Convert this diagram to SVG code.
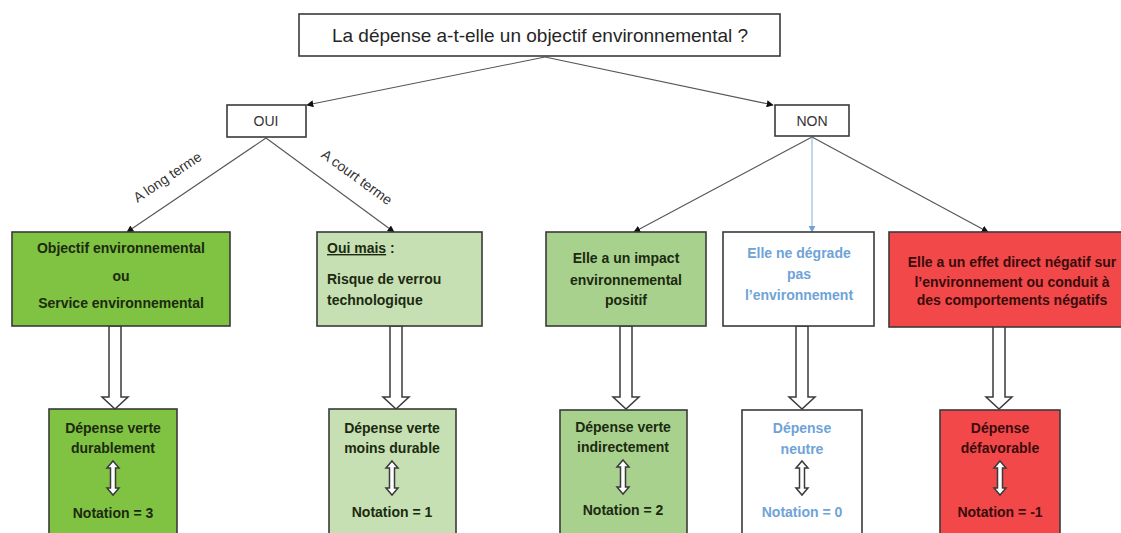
<svg xmlns="http://www.w3.org/2000/svg" width="1121" height="533" viewBox="0 0 1121 533">
<style>
.box{stroke:#3a3a3a;stroke-width:1.6}
.t{font-family:"Liberation Sans",Arial,sans-serif}
.b{font-family:"Liberation Sans",Arial,sans-serif;font-weight:bold;font-size:14px;text-anchor:middle}
.st{text-anchor:start}
.dk{fill:#1c2a10}
.rd{fill:#3a0c0c}
.bl{fill:#6fa3d8}
.con{stroke:#555;stroke-width:1.1;fill:none}
.hol{fill:#fff;stroke:#3a3a3a;stroke-width:1.5}
.lbl{font-family:"Liberation Sans",Arial,sans-serif;font-size:14px;fill:#333;text-anchor:middle}
</style>
<defs>
<marker id="ah" viewBox="0 0 10 10" refX="9" refY="5" markerWidth="7" markerHeight="7" orient="auto" markerUnits="userSpaceOnUse"><path d="M0,0L10,5L0,10z" fill="#111"/></marker>
<marker id="ahb" viewBox="0 0 10 10" refX="9" refY="5" markerWidth="7" markerHeight="7" orient="auto" markerUnits="userSpaceOnUse"><path d="M0,0L10,5L0,10z" fill="#6fa3d8"/></marker>
<path id="dbl" d="M0,-17 L6,-10 L2.5,-10 L2.5,10 L6,10 L0,17 L-6,10 L-2.5,10 L-2.5,-10 L-6,-10 Z"/>
<path id="big" d="M-6,0 L6,0 L6,71 L13,71 L0,83 L-13,71 L-6,71 Z"/>
</defs>
<rect width="1121" height="533" fill="#fff"/>

<g id="connectors">
<line class="con" x1="545" y1="57" x2="307" y2="105" marker-end="url(#ah)"/>
<line class="con" x1="545" y1="57" x2="773" y2="105" marker-end="url(#ah)"/>
<line class="con" x1="266" y1="138" x2="127" y2="232" marker-end="url(#ah)"/>
<line class="con" x1="266" y1="138" x2="394" y2="232" marker-end="url(#ah)"/>
<line class="con" x1="812" y1="137" x2="634" y2="232" marker-end="url(#ah)"/>
<line x1="812" y1="137" x2="812" y2="232" stroke="#8fb4dc" stroke-width="1.1" marker-end="url(#ahb)"/>
<line class="con" x1="812" y1="137" x2="988" y2="232" marker-end="url(#ah)"/>
<text class="lbl" transform="translate(170,181) rotate(-34)">A long terme</text>
<text class="lbl" transform="translate(354,181) rotate(36)">A court terme</text>
<use href="#big" class="hol" x="115" y="326"/>
<use href="#big" class="hol" x="396" y="326"/>
<use href="#big" class="hol" x="626" y="326"/>
<use href="#big" class="hol" x="802" y="326"/>
<use href="#big" class="hol" x="999" y="326"/>
</g>

<g id="n-question">
<rect class="box" x="299" y="14" width="481" height="42" fill="#fff"/>
<text class="t" x="540" y="42" font-size="19" fill="#262626" text-anchor="middle">La dépense a-t-elle un objectif environnemental ?</text>
</g>
<g id="n-oui">
<rect class="box" x="227" y="105" width="79" height="32" fill="#fff"/>
<text class="t" x="266" y="126" font-size="14" fill="#333" text-anchor="middle">OUI</text>
</g>
<g id="n-non">
<rect class="box" x="775" y="105" width="74" height="31" fill="#fff"/>
<text class="t" x="812" y="126" font-size="14" fill="#333" text-anchor="middle">NON</text>
</g>

<g id="n-objectif">
<rect class="box" x="12" y="232" width="218" height="94" fill="#80c241"/>
<text class="b dk" x="121" y="253">Objectif environnemental</text>
<text class="b dk" x="121" y="281">ou</text>
<text class="b dk" x="121" y="308">Service environnemental</text>
</g>
<g id="n-ouimais">
<rect class="box" x="317" y="232" width="165" height="94" fill="#c6e0b4"/>
<text class="b dk st" x="327" y="253"><tspan text-decoration="underline">Oui mais</tspan> :</text>
<text class="b dk st" x="327" y="284">Risque de verrou</text>
<text class="b dk st" x="327" y="305">technologique</text>
</g>
<g id="n-impact">
<rect class="box" x="546" y="232" width="160" height="94" fill="#a9d18e"/>
<text class="b dk" x="626" y="263">Elle a un impact</text>
<text class="b dk" x="626" y="285">environnemental</text>
<text class="b dk" x="626" y="305">positif</text>
</g>
<g id="n-degrade">
<rect class="box" x="723" y="232" width="151" height="94" fill="#fff"/>
<text class="b bl" x="799" y="258">Elle ne dégrade</text>
<text class="b bl" x="799" y="279">pas</text>
<text class="b bl" x="799" y="300">l’environnement</text>
</g>
<g id="n-negatif">
<rect class="box" x="889" y="232" width="250" height="95" fill="#f2484a"/>
<text class="b rd" x="1012" y="267">Elle a un effet direct négatif sur</text>
<text class="b rd" x="1012" y="287">l’environnement ou conduit à</text>
<text class="b rd" x="1012" y="305">des comportements négatifs</text>
</g>

<g id="n-durable">
<rect class="box" x="49" y="409" width="128" height="140" fill="#80c241"/>
<text class="b dk" x="113" y="433">Dépense verte</text>
<text class="b dk" x="113" y="453">durablement</text>
<use href="#dbl" class="hol" x="113" y="478"/>
<text class="b dk" x="113" y="518">Notation = 3</text>
</g>
<g id="n-moinsdurable">
<rect class="box" x="329" y="409" width="127" height="140" fill="#c6e0b4"/>
<text class="b dk" x="392" y="433">Dépense verte</text>
<text class="b dk" x="392" y="453">moins durable</text>
<use href="#dbl" class="hol" x="392" y="478"/>
<text class="b dk" x="392" y="517">Notation = 1</text>
</g>
<g id="n-indirect">
<rect class="box" x="560" y="410" width="127" height="140" fill="#a9d18e"/>
<text class="b dk" x="623" y="432">Dépense verte</text>
<text class="b dk" x="623" y="452">indirectement</text>
<use href="#dbl" class="hol" x="623" y="477"/>
<text class="b dk" x="623" y="515">Notation = 2</text>
</g>
<g id="n-neutre">
<rect class="box" x="742" y="410" width="120" height="140" fill="#fff"/>
<text class="b bl" x="802" y="433">Dépense</text>
<text class="b bl" x="802" y="454">neutre</text>
<use href="#dbl" class="hol" x="802" y="478"/>
<text class="b bl" x="802" y="517">Notation = 0</text>
</g>
<g id="n-defavorable">
<rect class="box" x="940" y="410" width="120" height="140" fill="#f2484a"/>
<text class="b rd" x="1000" y="433">Dépense</text>
<text class="b rd" x="1000" y="453">défavorable</text>
<use href="#dbl" class="hol" x="1000" y="478"/>
<text class="b rd" x="1000" y="517">Notation = -1</text>
</g>
</svg>
